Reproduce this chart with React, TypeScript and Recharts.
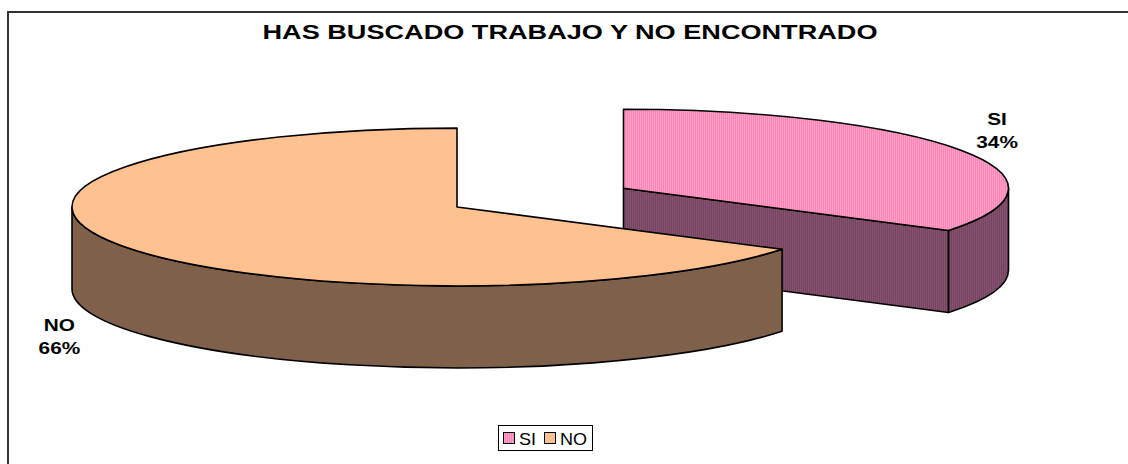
import React from "react";
import { PieChart, Pie, Legend } from "recharts";

const categories = ["SI", "NO"];
const percents = [34, 66];
const topColors = ["#FF8FBF", "#FFC18F"];
const sideColors = ["#7D4A68", "#7F614B"];
const explodeBy = [190, 0];

const data = categories.map((name, i) => ({ name, value: percents[i] }));

const TILT = 0.205;
const DEPTH = 82;
const RAD = Math.PI / 180;
const FONT = "Arial, 'Liberation Sans', sans-serif";

const pt = (cx: number, cy: number, rx: number, a: number): [number, number] => [
  cx + rx * Math.cos(a * RAD),
  cy - rx * TILT * Math.sin(a * RAD),
];

const Slice3D = (props: any) => {
  const { cx, cy, outerRadius, startAngle, endAngle, index, percent } = props;
  const rx = outerRadius;
  const ry = rx * TILT;
  const mid = (startAngle + endAngle) / 2;
  const ex = explodeBy[index] || 0;
  const [ccx, ccy] = pt(cx, cy, ex, mid);
  const s = Math.max(startAngle, endAngle);
  const e = Math.min(startAngle, endAngle);
  const topFill = index === 0 ? "url(#siTop)" : topColors[index];
  const sideFill = index === 0 ? "url(#siSide)" : sideColors[index];
  const line = { stroke: "#000", strokeWidth: 1.6, strokeLinejoin: "round" as const };

  const walls: React.ReactNode[] = [];
  const radial = (a: number, key: string) => {
    const [x, y] = pt(ccx, ccy, rx, a);
    walls.push(
      <path
        key={key}
        d={`M${ccx},${ccy} L${x},${y} L${x},${y + DEPTH} L${ccx},${ccy + DEPTH} Z`}
        fill={sideFill}
        {...line}
      />
    );
  };
  if (Math.cos(s * RAD) < -0.01) radial(s, "ws");
  if (Math.cos(e * RAD) > 0.01) radial(e, "we");

  // outer curved wall, front half only
  for (let k = Math.floor(e / 360) - 1; k <= Math.ceil(s / 360) + 1; k++) {
    const lo = Math.max(e, -180 + 360 * k);
    const hi = Math.min(s, 360 * k);
    if (hi - lo <= 0.01) continue;
    const [x1, y1] = pt(ccx, ccy, rx, hi);
    const [x2, y2] = pt(ccx, ccy, rx, lo);
    walls.push(
      <path
        key={`c${k}`}
        d={`M${x1},${y1} A${rx},${ry} 0 0 1 ${x2},${y2} L${x2},${y2 + DEPTH} A${rx},${ry} 0 0 0 ${x1},${y1 + DEPTH} Z`}
        fill={sideFill}
        {...line}
      />
    );
  }

  const [sx, sy] = pt(ccx, ccy, rx, s);
  const [tx, ty] = pt(ccx, ccy, rx, e);
  const large = s - e > 180 ? 1 : 0;
  const top = `M${ccx},${ccy} L${sx},${sy} A${rx},${ry} 0 ${large} 1 ${tx},${ty} Z`;

  const sinM = Math.sin(mid * RAD);
  const lx = ccx + (rx + 55) * Math.cos(mid * RAD) - 12;
  const ly = ccy - (ry + 30) * sinM + (sinM < 0 ? DEPTH : 0) - 5;

  return (
    <g>
      {index === 0 && (
        <defs>
          <pattern id="siTop" width="2" height="2" patternUnits="userSpaceOnUse">
            <rect width="2" height="2" fill="#FF84B6" />
            <rect width="1" height="2" fill="#FFA0CB" />
          </pattern>
          <pattern id="siSide" width="2" height="2" patternUnits="userSpaceOnUse">
            <rect width="2" height="2" fill="#77445F" />
            <rect width="1" height="2" fill="#85526F" />
          </pattern>
        </defs>
      )}
      {walls}
      <path d={top} fill={topFill} {...line} />
      <g transform={`translate(${lx},${ly}) scale(1.3,1)`}>
        <text y={-11.5} textAnchor="middle" dominantBaseline="central" fontFamily={FONT} fontWeight="bold" fontSize={16} fill="#000">
          {categories[index]}
        </text>
        <text y={11.5} textAnchor="middle" dominantBaseline="central" fontFamily={FONT} fontWeight="bold" fontSize={16} fill="#000">
          {`${Math.round(percent * 100)}%`}
        </text>
      </g>
    </g>
  );
};

const legendWidths = [17, 27];

const LegendBox = () => {
  const left = 498;
  let x = left + 5;
  const items = categories.map((c, i) => {
    const sqX = x;
    const txtX = sqX + 16;
    x = txtX + legendWidths[i] + 8;
    return (
      <g key={c}>
        <rect x={sqX + 0.5} y={7.5} width={11} height={11} fill={i === 0 ? "url(#siTop)" : topColors[i]} stroke="#000" strokeWidth={1} />
        <text x={txtX} y={19.5} fontFamily={FONT} fontSize={17} textLength={legendWidths[i]} lengthAdjust="spacingAndGlyphs">
          {c}
        </text>
      </g>
    );
  });
  return (
    <svg width={1128} height={27} style={{ display: "block" }}>
      <rect x={left + 0.5} y={0.5} width={x - left - 3} height={25} fill="#fff" stroke="#000" strokeWidth={1} />
      {items}
    </svg>
  );
};

export default function App() {
  return (
    <div style={{ position: "absolute", left: 0, top: 0, width: 1128, height: 464, background: "#fff", overflow: "hidden" }}>
      <div
        style={{
          position: "absolute",
          left: 7,
          top: 11,
          width: 1200,
          height: 500,
          borderLeft: "2px solid #333",
          borderTop: "2px solid #333",
        }}
      />
      <svg width={1128} height={60} style={{ position: "absolute", left: 0, top: 0 }}>
        <text
          x={570}
          y={39}
          textAnchor="middle"
          fontFamily={FONT}
          fontWeight="bold"
          fontSize={20}
          textLength={615}
          lengthAdjust="spacingAndGlyphs"
        >
          HAS BUSCADO TRABAJO Y NO ENCONTRADO
        </text>
      </svg>
      <PieChart width={1128} height={464} margin={{ top: 0, right: 0, bottom: 0, left: 0 }}>
        <Pie
          data={data}
          dataKey="value"
          nameKey="name"
          cx={457}
          cy={207}
          outerRadius={385}
          startAngle={90}
          endAngle={-270}
          fill="transparent"
          stroke="none"
          label={Slice3D}
          labelLine={false}
          isAnimationActive={false}
        />
        <Legend
          content={LegendBox}
          wrapperStyle={{ position: "absolute", left: 0, top: 425, width: 1128, height: 27 }}
        />
      </PieChart>
    </div>
  );
}
